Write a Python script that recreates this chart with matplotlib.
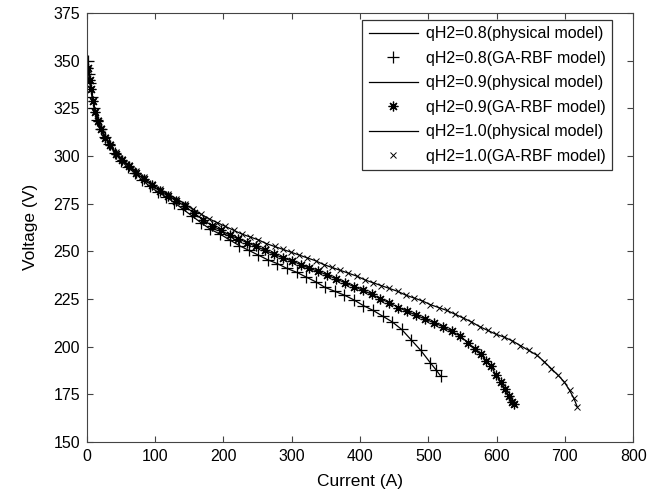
import matplotlib.pyplot as plt

plt.rcParams['font.family'] = ['Liberation Sans', 'DejaVu Sans']

# qH2 = 0.8 (plus markers)
i_08 = [1, 3, 5, 8, 11, 15, 20, 26, 33, 41, 50, 60, 70, 81, 92, 104, 116, 128, 141, 154,
        167, 181, 195, 209, 223, 237, 251, 265, 279, 293, 307, 321, 335, 349, 363, 377,
        391, 405, 419, 433, 447, 461, 475, 489, 503, 512, 518]
v_08 = [350, 343, 338, 331, 325, 319, 314, 310, 306, 301.5, 297.5, 294, 291, 287.5, 284,
        281, 278.5, 275.5, 272, 268.5, 265, 261.5, 259, 256, 253, 250.5, 248, 245.5,
        243.5, 241, 239, 236.5, 234, 231, 229, 227, 224.5, 221.5, 219, 216, 213, 209,
        203.5, 198, 191.5, 187.5, 184.6]

# qH2 = 0.9 (asterisk markers)
i_09 = [2, 4, 6, 9, 12, 16, 21, 27, 34, 42, 51, 61, 72, 83, 95, 107, 119, 131, 144, 157,
        170, 183, 196, 209, 222, 235, 248, 261, 274, 287, 300, 313, 326, 339, 352, 365,
        378, 391, 404, 417, 430, 443, 456, 469, 482, 495, 508, 521, 534, 547, 558, 568,
        577, 585, 592, 599, 606, 612, 618, 623, 625]
v_09 = [346, 340, 335, 329, 323, 318.5, 314, 309.5, 305.5, 301, 298, 294.5, 291, 288,
        284.5, 281.5, 279, 276.5, 273.5, 270, 266.5, 263.5, 261, 258.5, 256.5, 254.5,
        252.5, 250.5, 248.5, 246.5, 245, 243, 241, 239.5, 237.5, 235.5, 233.5, 231.5,
        229.5, 227.5, 225, 223, 220.5, 218.5, 216.5, 214.5, 212.5, 210.5, 208, 205.5,
        202, 198.5, 196, 192.5, 190, 185, 181.5, 178, 174, 171, 170]

# qH2 = 1.0 (x markers)
i_10 = [2, 4, 6, 9, 12, 16, 21, 27, 34, 42, 51, 61, 72, 83, 95, 107, 119, 131, 143, 155,
        167, 179, 191, 203, 215, 227, 239, 251, 263, 275, 287, 299, 311, 323, 335, 347,
        359, 371, 383, 395, 407, 419, 431, 443, 455, 467, 479, 491, 503, 515, 527, 539,
        551, 563, 575, 587, 599, 611, 623, 635, 647, 659, 670, 680, 690, 699, 707, 713, 718]
v_10 = [345, 340, 335, 329, 323.5, 319, 314.5, 310, 306, 302, 298.5, 295, 292, 289,
        285.5, 282.5, 280, 277.5, 275, 272, 269.5, 267, 265, 263, 261, 259, 257.5, 256,
        254, 252.5, 251, 249.5, 248, 246.5, 245, 243, 241.5, 240, 238.5, 237, 235, 233.5,
        232, 230.5, 229, 227, 225.5, 224, 222, 220.5, 219, 217, 215, 213, 210.5, 208.5,
        206.5, 205, 203, 200.5, 198, 195.5, 192, 188.5, 185, 181.5, 177, 173, 168.5]

fig = plt.figure(figsize=(6.63, 4.96), dpi=100)
ax = fig.add_axes([0.131, 0.109, 0.824, 0.865])

ax.plot(i_08, v_08, color='black', lw=0.9, label='qH2=0.8(physical model)')
ax.plot(i_08, v_08, ls='none', marker='+', ms=9, mew=0.9, color='black',
        label='qH2=0.8(GA-RBF model)')
ax.plot(i_09, v_09, color='black', lw=0.9, label='qH2=0.9(physical model)')
ax.plot(i_09, v_09, ls='none', marker=(8, 2, 0), ms=7, mew=0.9, color='black',
        label='qH2=0.9(GA-RBF model)')
ax.plot(i_10, v_10, color='black', lw=0.9, label='qH2=1.0(physical model)')
ax.plot(i_10, v_10, ls='none', marker='x', ms=5, mew=0.7, color='black',
        label='qH2=1.0(GA-RBF model)')

ax.set_xlim(0, 800)
ax.set_ylim(150, 375)
ax.set_xticks(range(0, 801, 100))
ax.set_yticks(range(150, 376, 25))
ax.tick_params(direction='in', top=True, right=True, labelsize=11.5, length=4,
               color='#444444', pad=5)
for s in ax.spines.values():
    s.set_color('#444444')
ax.set_xlabel('Current (A)', fontsize=12.5, labelpad=7)
ax.set_ylabel('Voltage (V)', fontsize=12.5, labelpad=11)

leg = ax.legend(loc='upper right', bbox_to_anchor=(0.962, 0.984), fontsize=11.5,
                frameon=True, fancybox=False, handlelength=3.1, borderpad=0.4,
                labelspacing=0.6, handletextpad=0.5, borderaxespad=0)
leg.get_frame().set_edgecolor('black')
leg.get_frame().set_linewidth(0.9)

fig.savefig('out.png', dpi=100)
